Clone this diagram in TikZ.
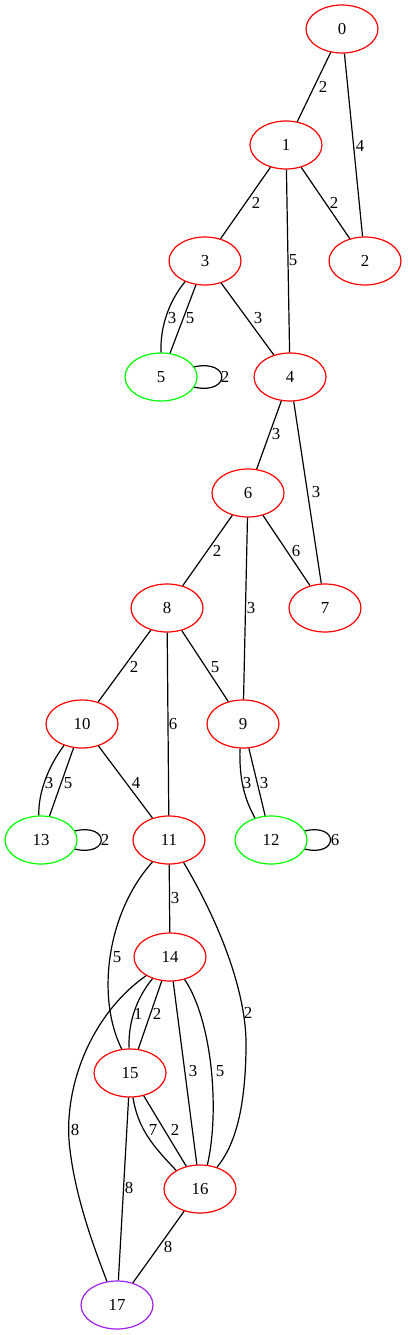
\documentclass[tikz,border=0pt]{standalone}
\usepackage{fontspec}
\setmainfont{Liberation Serif}
\usetikzlibrary{shapes.geometric}
\definecolor{gvred}{HTML}{FF0000}
\definecolor{gvgreen}{HTML}{00FF00}
\definecolor{gvpurple}{HTML}{A020F0}
\begin{document}
\begin{tikzpicture}[x=0.75pt,y=-0.75pt,
  vtx/.style={ellipse, draw=gvred, line width=0.9pt, minimum width=54pt, minimum height=36pt, inner sep=0pt, font=\fontsize{12.6}{14}\selectfont},
  vgreen/.style={draw=gvgreen},
  vpurple/.style={draw=gvpurple},
  edge/.style={line width=0.9pt, black},
  lbl/.style={inner sep=0pt, font=\fontsize{12.6}{14}\selectfont}]
\useasboundingbox (0,0) rectangle (407,1335);
% vertices
\node[vtx] (n0) at (342,29) {0};
\node[vtx] (n1) at (286,145) {1};
\node[vtx] (n2) at (365,261) {2};
\node[vtx] (n3) at (205,261) {3};
\node[vtx] (n4) at (290,377) {4};
\node[vtx,vgreen] (n5) at (161,377) {5};
\node[vtx] (n6) at (248,493) {6};
\node[vtx] (n7) at (325,608) {7};
\node[vtx] (n8) at (167,608) {8};
\node[vtx] (n9) at (243,724) {9};
\node[vtx] (n10) at (82,724) {10};
\node[vtx] (n11) at (169,840) {11};
\node[vtx,vgreen] (n12) at (271,840) {12};
\node[vtx,vgreen] (n13) at (41,840) {13};
\node[vtx] (n14) at (170,957) {14};
\node[vtx] (n15) at (130,1073) {15};
\node[vtx] (n16) at (200,1189) {16};
\node[vtx,vpurple] (n17) at (117,1305) {17};
% edges
\draw[edge] (n0) -- (n1);
\draw[edge] (n0) -- (n2);
\draw[edge] (n1) -- (n3);
\draw[edge] (n1) -- (n2);
\draw[edge] (n1) -- (n4);
\draw[edge] (n3.226) .. controls (170,300) and (160,325) .. (n5.90);
\draw[edge] (n3) -- (n5);
\draw[edge] (n3) -- (n4);
\draw[edge] (n5.17) .. controls (231,359) and (231,395) .. (n5.-17);
\draw[edge] (n4) -- (n6);
\draw[edge] (n4) -- (n7);
\draw[edge] (n6) -- (n8);
\draw[edge] (n6) -- (n7);
\draw[edge] (n6) -- (n9);
\draw[edge] (n8) -- (n10);
\draw[edge] (n8) -- (n9);
\draw[edge] (n8) -- (n11);
\draw[edge] (n10.230) .. controls (47,768) and (38,795) .. (n13.95);
\draw[edge] (n10) -- (n13);
\draw[edge] (n10) -- (n11);
\draw[edge] (n13.15) .. controls (110,823) and (110,857) .. (n13.-15);
\draw[edge] (n9.263) .. controls (239,780) and (245,800) .. (n12.126);
\draw[edge] (n9) -- (n12);
\draw[edge] (n12.15) .. controls (339,823) and (339,857) .. (n12.-15);
\draw[edge] (n11) -- (n14);
\draw[edge] (n11.233) .. controls (105,915) and (97,1000) .. (n15.109);
\draw[edge] (n11.303) .. controls (215,915) and (248,990) .. (246,1050) .. controls (245,1110) and (235,1145) .. (n16.52);
\draw[edge] (n14.231) .. controls (135,1000) and (128,1025) .. (n15.92);
\draw[edge] (n14) -- (n15);
\draw[edge] (n14) -- (n16);
\draw[edge] (n14.303) .. controls (212,1020) and (220,1110) .. (n16.73);
\draw[edge] (n14.218) .. controls (90,1015) and (62,1090) .. (70,1150) .. controls (76,1200) and (95,1250) .. (n17.113);
\draw[edge] (n15.277) .. controls (138,1130) and (155,1148) .. (n16.142);
\draw[edge] (n15) -- (n16);
\draw[edge] (n15) -- (n17);
\draw[edge] (n16) -- (n17);
% labels
\node[lbl] (l01) at (323,87) {2};
\node[lbl] (l02) at (360,146) {4};
\node[lbl] (l13) at (256,203) {2};
\node[lbl] (l12) at (334,203) {2};
\node[lbl] (l14) at (293,260) {5};
\node[lbl] (l35a) at (172,318) {3};
\node[lbl] (l35b) at (190,318) {5};
\node[lbl] (l34) at (258,318) {3};
\node[lbl] (l55) at (225,377) {2};
\node[lbl] (l46) at (276,434) {3};
\node[lbl] (l47) at (316,492) {3};
\node[lbl] (l68) at (217,551) {2};
\node[lbl] (l67) at (296,551) {6};
\node[lbl] (l69) at (251,608) {3};
\node[lbl] (l810) at (134,667) {2};
\node[lbl] (l89) at (215,667) {5};
\node[lbl] (l811) at (173,724) {6};
\node[lbl] (l1013a) at (49,783) {3};
\node[lbl] (l1013b) at (68,783) {5};
\node[lbl] (l1011) at (136,783) {4};
\node[lbl] (l912a) at (247,783) {3};
\node[lbl] (l912b) at (264,783) {3};
\node[lbl] (l1313) at (105,840) {2};
\node[lbl] (l1212) at (335,840) {6};
\node[lbl] (l1114) at (175,898) {3};
\node[lbl] (l1115) at (117,957) {5};
\node[lbl] (l1116) at (248,1013) {2};
\node[lbl] (l1415a) at (138,1014) {1};
\node[lbl] (l1415b) at (157,1014) {2};
\node[lbl] (l1416a) at (193,1071) {3};
\node[lbl] (l1416b) at (220,1071) {5};
\node[lbl] (l1417) at (75,1130) {8};
\node[lbl] (l1516a) at (153,1130) {7};
\node[lbl] (l1516b) at (175,1130) {2};
\node[lbl] (l1517) at (129,1188) {8};
\node[lbl] (l1617) at (168,1247) {8};
\end{tikzpicture}
\end{document}
